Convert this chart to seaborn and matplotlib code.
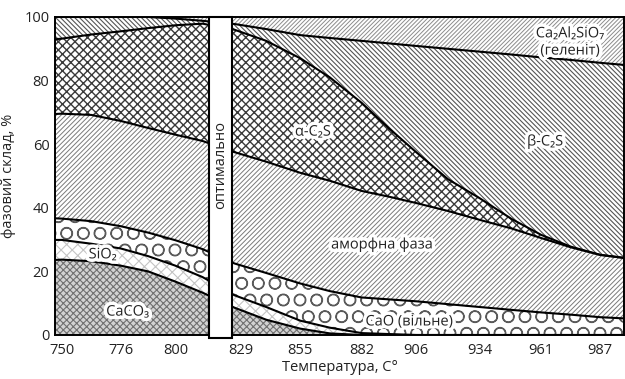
import matplotlib
matplotlib.use("Agg")
import matplotlib.pyplot as plt
import matplotlib.patheffects as pe
from matplotlib.patches import Rectangle
import numpy as np
import pandas as pd
import seaborn as sns

# ---- data (phase composition, %) ----
temperatures = [747, 750, 763, 776, 788, 800, 812, 826, 840, 855, 868,
                882, 894, 906, 920, 934, 948, 961, 974, 987, 998]
caco3     = [23.6, 23.7, 23.2, 21.8, 20.0, 16.8, 13.3, 8.6, 4.8, 2.0, 0.5,
             0.0, 0.0, 0.0, 0.0, 0.0, 0.0, 0.0, 0.0, 0.0, 0.0]
sio2      = [6.3, 6.2, 5.5, 5.4, 4.8, 5.0, 4.9, 3.9, 4.0, 2.5, 1.8,
             0.6, 0.3, 0.0, 0.0, 0.0, 0.0, 0.0, 0.0, 0.0, 0.0]
cao       = [6.8, 6.7, 7.1, 7.0, 7.4, 8.0, 8.8, 10.0, 10.7, 11.7, 11.5,
             11.2, 10.9, 10.6, 9.7, 8.8, 7.9, 7.1, 6.4, 5.6, 5.2]
amorphous = [32.8, 33.0, 33.4, 33.1, 32.9, 33.2, 34.0, 35.0, 35.0, 34.8, 34.7,
             33.5, 32.3, 30.9, 29.3, 27.4, 25.6, 23.4, 21.2, 19.6, 19.0]
alpha_c2s = [23.5, 23.6, 25.3, 28.2, 31.4, 34.4, 36.9, 38.5, 38.0, 36.0, 32.5,
             27.7, 21.5, 16.0, 10.0, 6.8, 3.0, 1.0, 0.2, 0.0, 0.0]
beta_c2s  = [7.0, 6.8, 5.5, 4.5, 3.5, 2.1, 0.9, 1.8, 3.7, 7.3, 12.4,
             19.5, 26.7, 33.4, 41.0, 46.1, 51.7, 55.8, 58.7, 60.4, 60.7]
gehlenite = [0.0, 0.0, 0.0, 0.0, 0.0, 0.5, 1.2, 2.2, 3.8, 5.7, 6.6,
             7.5, 8.3, 9.1, 10.0, 10.9, 11.8, 12.7, 13.5, 14.4, 15.1]

tick_temps = [750, 776, 800, 829, 855, 882, 906, 934, 961, 987]
y_ticks = [0, 20, 40, 60, 80, 100]
optimum_range = (814.8, 825.0)

phase_names = ["CaCO₃", "SiO₂", "CaO (вільне)", "аморфна фаза",
               "α-C₂S", "β-C₂S", "Ca₂Al₂SiO₇\n(геленіт)"]
phase_values = [caco3, sio2, cao, amorphous, alpha_c2s, beta_c2s, gehlenite]

# ---- styles ----
styles = [
    dict(face="#d2d2d2", hatch="xxxxx",     hc="#707070", hlw=0.8),  # CaCO3
    dict(face="white",   hatch="xxx",       hc="#c4c4c4", hlw=0.8),  # SiO2
    dict(face="white",   hatch="O",         hc="#5a5a5a", hlw=0.9),  # CaO
    dict(face="white",   hatch="///////",   hc="#7a7a7a", hlw=0.7),  # amorphous
    dict(face="white",   hatch="xxxx",      hc="#3a3a3a", hlw=1.0),  # alpha
    dict(face="white",   hatch="\\" * 7,    hc="#555555", hlw=0.8),  # beta
    dict(face="white",   hatch="////////",  hc="#8c8c8c", hlw=0.7),  # gehlenite
]
label_pos = [(779, 7.2), (768, 25.2), (903, 4.1), (891, 28.3),
             (860.6, 63.8), (962.8, 60.7), (973.8, 92.0)]

sns.set_theme(style="white")
plt.rcParams['font.family'] = ['Open Sans', 'DejaVu Sans']

fig = plt.figure(figsize=(6.25, 3.79), dpi=100)
ax = fig.add_axes([55 / 625, 1 - 335 / 379, (624 - 55) / 625, (335 - 17) / 379])

df = pd.DataFrame({"T": temperatures})
lower = np.zeros(len(temperatures))
for name, vals, st in zip(phase_names, phase_values, styles):
    upper = lower + np.array(vals)
    plt.rcParams['hatch.linewidth'] = st["hlw"]
    coll = ax.fill_between(temperatures, lower, upper, facecolor=st["face"],
                           hatch=st["hatch"], edgecolor=st["hc"], linewidth=0, zorder=1)
    if hasattr(coll, "set_hatch_linewidth"):
        coll.set_hatch_linewidth(st["hlw"])
    df[name] = upper
    lower = upper

for name in phase_names[:-1]:
    sns.lineplot(data=df, x="T", y=name, ax=ax, color="black", linewidth=1.5,
                 zorder=3, legend=False)

glow = [pe.withStroke(linewidth=5, foreground="white")]
for name, (tx, ty) in zip(phase_names, label_pos):
    ax.text(tx, ty, name, ha="center", va="center", fontsize=10.5,
            color="#222222", zorder=6, path_effects=glow, linespacing=1.2)

# optimum bar
x0, x1 = optimum_range
ax.add_patch(Rectangle((x0, -1), x1 - x0, 101, facecolor="white", edgecolor="black",
                       linewidth=1.5, clip_on=False, zorder=10))
ax.text((x0 + x1) / 2, 53.5, "оптимально", rotation=90, ha="center", va="center",
        fontsize=10.5, color="#222222", zorder=11)

ax.set_xlim(747, 997.5)
ax.set_ylim(0, 100)
ax.set_xticks(tick_temps)
ax.set_xticklabels([str(t) for t in tick_temps])
ax.set_yticks(y_ticks)
ax.tick_params(axis="both", length=0, labelsize=10.5, colors="#222222")
ax.tick_params(axis="x", pad=6)
ax.tick_params(axis="y", pad=4)
ax.set_xlabel("Температура, C°", fontsize=10.5, color="#222222", labelpad=1)
ax.set_ylabel("фазовий склад, %", fontsize=10.5, color="#222222", labelpad=6)
for s in ax.spines.values():
    s.set_color("black")
    s.set_linewidth(1.4)
    s.set_zorder(5)

fig.savefig("out.png", dpi=100)
